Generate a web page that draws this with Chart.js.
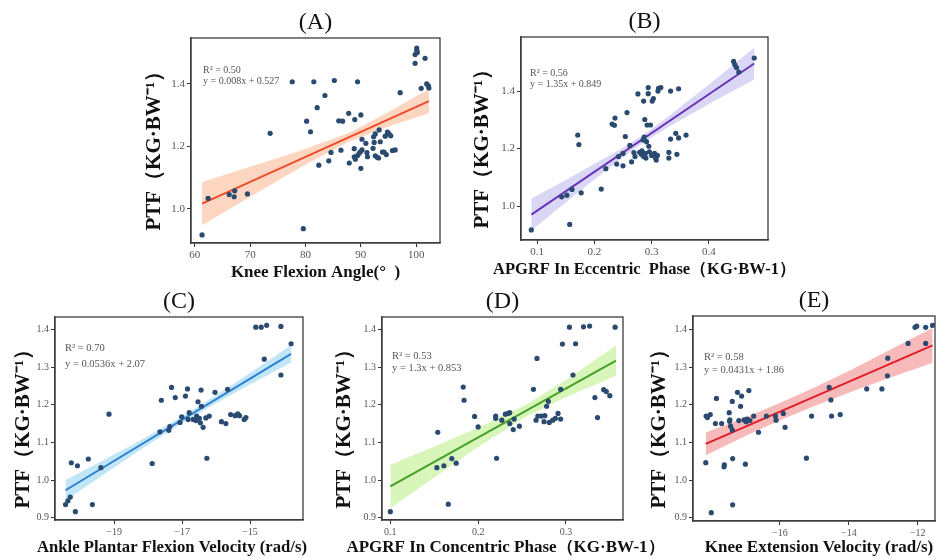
<!DOCTYPE html>
<html lang="en">
<head>
<meta charset="UTF-8">
<title>PTF regressions</title>
<script src="https://cdn.jsdelivr.net/npm/chart.js"></script>
<style>
    body { margin: 0; background: #fff; }
    #wrap { position: relative; width: 951px; height: 559px; overflow: hidden; }
    canvas { position: absolute; }
</style>
</head>
<body>
<div id="wrap">
    <canvas id="chartA"></canvas>
    <canvas id="chartB"></canvas>
    <canvas id="chartC"></canvas>
    <canvas id="chartD"></canvas>
    <canvas id="chartE"></canvas>
</div>
<script>
// ---- (A) knee flexion angle ----
const aX = [61.3, 62.4, 66.2, 67.1, 67.2, 69.5, 73.6, 77.6, 79.6, 80.2, 80.9, 81.5, 82.1, 82.4, 83.5, 84.2, 84.6, 85.2, 86.0, 86.4, 86.7, 87.8, 87.9, 88.8, 88.9, 88.8, 89.0, 89.4, 89.4, 89.7, 89.9, 90.0, 90.0, 90.2, 90.2, 90.9, 91.1, 91.2, 92.2, 92.3, 92.4, 92.6, 92.6, 93.0, 93.2, 93.3, 93.5, 93.9, 94.2, 94.4, 94.6, 94.8, 95.1, 95.4, 95.7, 96.2, 97.1, 99.8, 99.8, 100.1, 100.1, 100.2, 101.6, 100.9, 101.9, 102.2, 102.3];
const aY = [0.917, 1.034, 1.046, 1.039, 1.058, 1.048, 1.242, 1.407, 0.937, 1.281, 1.247, 1.407, 1.324, 1.140, 1.363, 1.154, 1.181, 1.411, 1.282, 1.188, 1.281, 1.306, 1.147, 1.193, 1.286, 1.167, 1.159, 1.407, 1.171, 1.178, 1.183, 1.130, 1.301, 1.223, 1.189, 1.210, 1.180, 1.167, 1.194, 1.231, 1.213, 1.170, 1.240, 1.165, 1.163, 1.253, 1.215, 1.182, 1.182, 1.233, 1.174, 1.246, 1.240, 1.234, 1.187, 1.189, 1.372, 1.466, 1.494, 1.507, 1.515, 1.501, 1.482, 1.386, 1.400, 1.394, 1.387];
const aFitX = [61.3, 102.3];
const aFitY = [1.017, 1.345];
const aBandX = [61.3, 70, 80, 88, 95, 102.3];
const aBandLo = [0.948, 1.039, 1.142, 1.217, 1.264, 1.306];
const aBandHi = [1.086, 1.135, 1.192, 1.245, 1.310, 1.384];
const aXTicks = [60, 70, 80, 90, 100];
const aYTicks = [1.0, 1.2, 1.4];

// ---- (B) APGRF eccentric ----
const bX = [0.090, 0.143, 0.152, 0.157, 0.161, 0.171, 0.173, 0.177, 0.212, 0.220, 0.231, 0.235, 0.236, 0.239, 0.242, 0.250, 0.250, 0.254, 0.257, 0.262, 0.265, 0.269, 0.271, 0.276, 0.279, 0.282, 0.283, 0.285, 0.286, 0.286, 0.287, 0.288, 0.289, 0.290, 0.291, 0.292, 0.294, 0.294, 0.295, 0.296, 0.298, 0.300, 0.301, 0.303, 0.305, 0.307, 0.308, 0.310, 0.311, 0.312, 0.316, 0.330, 0.330, 0.333, 0.333, 0.342, 0.344, 0.347, 0.347, 0.360, 0.443, 0.445, 0.448, 0.452, 0.479];
const bY = [0.917, 1.032, 1.038, 0.936, 1.058, 1.247, 1.214, 1.046, 1.059, 1.130, 1.285, 1.281, 1.306, 1.146, 1.172, 1.140, 1.183, 1.242, 1.325, 1.211, 1.154, 1.186, 1.172, 1.390, 1.187, 1.180, 1.192, 1.230, 1.172, 1.365, 1.240, 1.301, 1.183, 1.167, 1.224, 1.282, 1.412, 1.391, 1.208, 1.189, 1.282, 1.176, 1.365, 1.374, 1.183, 1.166, 1.160, 1.176, 1.400, 1.409, 1.412, 1.167, 1.187, 1.233, 1.400, 1.253, 1.180, 1.237, 1.408, 1.247, 1.503, 1.492, 1.482, 1.466, 1.515];
const bFitX = [0.090, 0.479];
const bFitY = [0.970, 1.496];
const bBandX = [0.09, 0.15, 0.2, 0.25, 0.285, 0.33, 0.4, 0.479];
const bBandLo = [0.915, 1.012, 1.092, 1.170, 1.220, 1.276, 1.355, 1.440];
const bBandHi = [1.026, 1.091, 1.146, 1.203, 1.247, 1.313, 1.423, 1.551];
const bXTicks = [0.1, 0.2, 0.3, 0.4];
const bYTicks = [1.0, 1.2, 1.4];

// ---- (C) ankle plantar flexion velocity ----
const cX = [-20.43, -20.36, -20.29, -20.26, -20.14, -20.08, -19.76, -19.64, -19.39, -19.15, -17.88, -17.65, -17.61, -17.39, -17.36, -17.31, -17.20, -17.06, -17.01, -16.90, -16.84, -16.82, -16.79, -16.67, -16.59, -16.57, -16.53, -16.49, -16.46, -16.44, -16.43, -16.38, -16.30, -16.27, -16.20, -16.03, -15.84, -15.71, -15.66, -15.57, -15.44, -15.36, -15.31, -15.17, -15.12, -14.83, -14.67, -14.51, -14.58, -14.09, -14.09, -13.79];
const cY = [0.935, 0.945, 0.955, 1.046, 0.916, 1.038, 1.056, 0.935, 1.033, 1.175, 1.044, 1.128, 1.212, 1.132, 1.142, 1.246, 1.219, 1.153, 1.168, 1.223, 1.242, 1.161, 1.179, 1.161, 1.158, 1.170, 1.208, 1.164, 1.152, 1.239, 1.196, 1.140, 1.165, 1.058, 1.170, 1.233, 1.155, 1.150, 1.241, 1.174, 1.171, 1.176, 1.171, 1.161, 1.166, 1.406, 1.406, 1.411, 1.321, 1.408, 1.279, 1.362];
const cFitX = [-20.43, -13.79];
const cFitY = [0.973, 1.335];
const cBandX = [-20.43, -19.5, -18.5, -17.5, -16.8, -16, -15, -13.79];
const cBandLo = [0.946, 1.003, 1.064, 1.123, 1.162, 1.204, 1.254, 1.312];
const cBandHi = [1.000, 1.044, 1.092, 1.143, 1.180, 1.225, 1.284, 1.358];
const cXTicks = [-19, -17, -15];
const cYTicks = [0.9, 1.0, 1.1, 1.2, 1.3, 1.4];

// ---- (D) APGRF concentric ----
const dX = [0.100, 0.153, 0.154, 0.161, 0.166, 0.170, 0.175, 0.183, 0.184, 0.196, 0.200, 0.220, 0.220, 0.221, 0.227, 0.231, 0.234, 0.236, 0.236, 0.240, 0.241, 0.247, 0.263, 0.266, 0.267, 0.268, 0.272, 0.275, 0.276, 0.278, 0.280, 0.281, 0.285, 0.288, 0.291, 0.294, 0.294, 0.296, 0.304, 0.308, 0.311, 0.320, 0.327, 0.333, 0.336, 0.343, 0.346, 0.350, 0.356];
const dY = [0.916, 1.033, 1.127, 1.038, 0.936, 1.057, 1.045, 1.247, 1.212, 1.169, 1.141, 1.164, 1.170, 1.058, 1.159, 1.175, 1.177, 1.179, 1.150, 1.134, 1.162, 1.143, 1.241, 1.159, 1.323, 1.170, 1.170, 1.155, 1.171, 1.196, 1.209, 1.153, 1.159, 1.164, 1.177, 1.162, 1.241, 1.361, 1.406, 1.279, 1.362, 1.407, 1.409, 1.219, 1.166, 1.240, 1.235, 1.224, 1.406];
const dFitX = [0.100, 0.357];
const dFitY = [0.983, 1.317];
const dBandX = [0.1, 0.15, 0.2, 0.255, 0.3, 0.357];
const dBandLo = [0.925, 1.007, 1.088, 1.169, 1.220, 1.277];
const dBandHi = [1.041, 1.089, 1.139, 1.201, 1.266, 1.357];
const dXTicks = [0.1, 0.2, 0.3];
const dYTicks = [0.9, 1.0, 1.1, 1.2, 1.3, 1.4];

// ---- (E) knee extension velocity ----
const eX = [-18.15, -18.14, -18.10, -18.02, -17.99, -17.87, -17.84, -17.69, -17.62, -17.61, -17.47, -17.46, -17.45, -17.43, -17.38, -17.38, -17.37, -17.37, -17.23, -17.19, -17.11, -17.14, -17.04, -17.00, -16.98, -16.96, -16.92, -16.90, -16.87, -16.76, -16.62, -16.39, -16.13, -16.11, -15.90, -15.85, -15.23, -15.08, -14.57, -14.52, -14.50, -14.25, -13.48, -13.04, -12.88, -12.87, -12.28, -12.08, -12.03, -11.77, -11.77, -11.57];
const eY = [1.046, 1.170, 1.166, 1.174, 0.913, 1.150, 1.217, 1.150, 1.035, 1.040, 1.179, 1.156, 1.160, 1.143, 1.209, 1.133, 0.934, 1.057, 1.233, 1.158, 1.223, 1.196, 1.160, 1.042, 1.155, 1.162, 1.160, 1.238, 1.158, 1.170, 1.127, 1.170, 1.170, 1.159, 1.177, 1.140, 1.058, 1.170, 1.246, 1.213, 1.170, 1.174, 1.242, 1.242, 1.277, 1.324, 1.363, 1.406, 1.409, 1.406, 1.363, 1.411];
const eFitX = [-18.15, -11.57];
const eFitY = [1.096, 1.358];
const eBandX = [-18.15, -17, -16, -15, -14, -13, -12, -11.57];
const eBandLo = [1.066, 1.117, 1.159, 1.197, 1.232, 1.266, 1.298, 1.312];
const eBandHi = [1.126, 1.166, 1.205, 1.246, 1.290, 1.337, 1.384, 1.404];
const eXTicks = [-16, -14, -12];
const eYTicks = [0.9, 1.0, 1.1, 1.2, 1.3, 1.4];

// trailing spaces nudge the rotated label a little lower, like the original
const yTitle = 'PTF（KG·BW⁻¹）  ';
const serif = '"Liberation Serif", "Times New Roman", serif';

function pts(xs, ys) {
    return xs.map((x, i) => ({ x: x, y: ys[i] }));
}

function fmtX(v) {
    if (v < 0) return '\u2212' + Math.abs(v);
    if (v < 1) return v.toFixed(1);
    return String(v);
}

// box border, panel letter, x title (not squeezed to the axis width) and the R² note
const deco = {
    id: 'deco',
    afterDraw(chart, args, o) {
        const ctx = chart.ctx;
        const a = chart.chartArea;
        const cx = (a.left + a.right) / 2;
        ctx.save();
        ctx.strokeStyle = '#3c3c3c';
        ctx.lineWidth = 1.3;
        ctx.strokeRect(a.left, a.top, a.right - a.left, a.bottom - a.top);
        ctx.fillStyle = '#111';
        ctx.textAlign = 'center';
        ctx.textBaseline = 'middle';
        ctx.font = '24px ' + serif;
        ctx.fillText(o.title, cx, a.top - 15);
        ctx.font = 'bold ' + o.xTitleSize + 'px ' + serif;
        ctx.fillText(o.xTitle, cx + o.xTitleDx, a.bottom + o.xTitleDy);
        ctx.fillStyle = '#555';
        ctx.font = o.noteSize + 'px ' + serif;
        ctx.textAlign = 'left';
        ctx.fillText(o.r2, a.left + o.dx, a.top + o.dy1);
        ctx.fillText(o.eq, a.left + o.dx, a.top + o.dy2);
        ctx.restore();
    }
};

function makePanel(p) {
    const el = document.getElementById(p.id);
    el.width = p.w;
    el.height = p.h;
    el.style.left = p.left + 'px';
    el.style.top = p.top + 'px';
    new Chart(el, {
        type: 'scatter',
        data: {
            datasets: [
                { data: pts(p.xs, p.ys), backgroundColor: '#2b4a70', pointRadius: 2.6, borderWidth: 0 },
                { data: pts(p.fitX, p.fitY), showLine: true, borderColor: p.line, borderWidth: 2, pointRadius: 0 },
                { data: pts(p.bandX, p.bandHi), showLine: true, borderWidth: 0, pointRadius: 0, fill: 3, backgroundColor: p.band },
                { data: pts(p.bandX, p.bandLo), showLine: true, borderWidth: 0, pointRadius: 0 }
            ]
        },
        options: {
            responsive: false,
            animation: false,
            devicePixelRatio: 1,
            layout: { padding: { left: 0, top: p.padT, right: p.padR, bottom: 0 } },
            plugins: {
                legend: { display: false },
                tooltip: { enabled: false },
                deco: {
                    title: p.title, xTitle: p.xTitle, xTitleDx: p.xTitleDx, xTitleDy: p.xTitleDy, xTitleSize: p.xTitleSize,
                    r2: p.r2, eq: p.eq, dx: p.dx, dy1: p.dy1, dy2: p.dy2, noteSize: p.noteSize
                }
            },
            scales: {
                x: {
                    type: 'linear',
                    min: p.xMin, max: p.xMax,
                    afterBuildTicks: s => { s.ticks = p.xTicks.map(v => ({ value: v })); },
                    afterFit: s => { s.height = p.xh; },
                    grid: { drawOnChartArea: false, tickLength: 4, color: '#333' },
                    border: { color: '#3c3c3c', width: 1.3 },
                    ticks: { callback: v => fmtX(v), color: '#555', font: { family: serif, size: p.tickSize }, padding: 2, maxRotation: 0, autoSkip: false }
                },
                y: {
                    type: 'linear',
                    min: p.yMin, max: p.yMax,
                    afterBuildTicks: s => { s.ticks = p.yTicks.map(v => ({ value: v })); },
                    afterFit: s => { s.width = p.yw; },
                    grid: { drawOnChartArea: false, tickLength: 4, color: '#333' },
                    border: { color: '#3c3c3c', width: 1.3 },
                    ticks: { callback: v => v.toFixed(1), color: '#555', font: { family: serif, size: p.tickSize }, padding: 2, autoSkip: false },
                    title: { display: true, text: yTitle, color: '#111', padding: 0, font: { family: serif, size: 21, weight: 'bold' } }
                }
            }
        },
        plugins: [deco]
    });
}

makePanel({
    id: 'chartA', left: 142, top: 0, w: 308, h: 285, padT: 38, padR: 10, yw: 49, xh: 42,
    xs: aX, ys: aY, fitX: aFitX, fitY: aFitY, bandX: aBandX, bandLo: aBandLo, bandHi: aBandHi,
    xTicks: aXTicks, yTicks: aYTicks, xMin: 59.3, xMax: 104.3, yMin: 0.891, yMax: 1.547,
    line: '#ee4b2b', band: 'rgba(250, 180, 140, 0.55)', tickSize: 11,
    title: '(A)', xTitle: 'Knee Flexion Angle(°  )', xTitleDx: 0, xTitleDy: 30, xTitleSize: 17,
    r2: 'R² = 0.50', eq: 'y = 0.008x + 0.527', dx: 12, dy1: 32, dy2: 43, noteSize: 10
});

makePanel({
    id: 'chartB', left: 470, top: 0, w: 335, h: 285, padT: 37, padR: 37, yw: 51, xh: 45,
    xs: bX, ys: bY, fitX: bFitX, fitY: bFitY, bandX: bBandX, bandLo: bBandLo, bandHi: bBandHi,
    xTicks: bXTicks, yTicks: bYTicks, xMin: 0.072, xMax: 0.503, yMin: 0.882, yMax: 1.588,
    line: '#6a33b8', band: 'rgba(180, 175, 235, 0.5)', tickSize: 11,
    title: '(B)', xTitle: 'APGRF In Eccentric  Phase（KG·BW-1）', xTitleDx: 0, xTitleDy: 30, xTitleSize: 16.5,
    r2: 'R² = 0.56', eq: 'y = 1.35x + 0.849', dx: 9, dy1: 36, dy2: 47, noteSize: 10
});

makePanel({
    id: 'chartC', left: 11, top: 285, w: 309, h: 274, padT: 32, padR: 17, yw: 44, xh: 39,
    xs: cX, ys: cY, fitX: cFitX, fitY: cFitY, bandX: cBandX, bandLo: cBandLo, bandHi: cBandHi,
    xTicks: cXTicks, yTicks: cYTicks, xMin: -20.74, xMax: -13.44, yMin: 0.894, yMax: 1.433,
    line: '#2f80d0', band: 'rgba(140, 210, 240, 0.55)', tickSize: 10,
    title: '(C)', xTitle: 'Ankle Plantar Flexion Velocity (rad/s)', xTitleDx: -7, xTitleDy: 28, xTitleSize: 16.7,
    r2: 'R² = 0.70', eq: 'y = 0.0536x + 2.07', dx: 10, dy1: 31, dy2: 47, noteSize: 10.5
});

makePanel({
    id: 'chartD', left: 332, top: 285, w: 343, h: 274, padT: 32, padR: 52, yw: 50, xh: 39,
    xs: dX, ys: dY, fitX: dFitX, fitY: dFitY, bandX: dBandX, bandLo: dBandLo, bandHi: dBandHi,
    xTicks: dXTicks, yTicks: dYTicks, xMin: 0.0905, xMax: 0.365, yMin: 0.894, yMax: 1.433,
    line: '#46a028', band: 'rgba(190, 240, 140, 0.6)', tickSize: 10,
    title: '(D)', xTitle: 'APGRF In Concentric Phase（KG·BW-1）', xTitleDx: 3, xTitleDy: 28, xTitleSize: 17,
    r2: 'R² = 0.53', eq: 'y = 1.3x + 0.853', dx: 10, dy1: 39, dy2: 51, noteSize: 10.5
});

makePanel({
    id: 'chartE', left: 647, top: 285, w: 304, h: 274, padT: 31, padR: 16, yw: 46, xh: 38,
    xs: eX, ys: eY, fitX: eFitX, fitY: eFitY, bandX: eBandX, bandLo: eBandLo, bandHi: eBandHi,
    xTicks: eXTicks, yTicks: eYTicks, xMin: -18.52, xMax: -11.5, yMin: 0.891, yMax: 1.436,
    line: '#e11d2a', band: 'rgba(242, 140, 140, 0.6)', tickSize: 10,
    title: '(E)', xTitle: 'Knee Extension Velocity (rad/s)', xTitleDx: 5, xTitleDy: 27, xTitleSize: 17,
    r2: 'R² = 0.58', eq: 'y = 0.0431x + 1.86', dx: 11, dy1: 41, dy2: 54, noteSize: 10.5
});
</script>
</body>
</html>
